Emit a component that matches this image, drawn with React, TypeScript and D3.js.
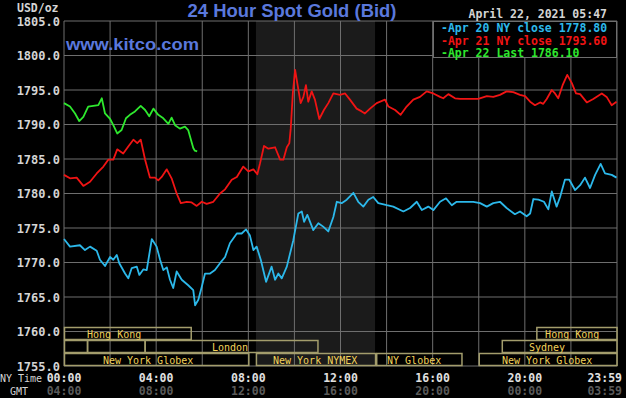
import React from 'react'
import * as d3 from 'd3'

// [hour of NY day, price]
const apr20: [number, number][] = [
  [0, 1773.4], [0.26, 1772.3], [0.69, 1772.5], [0.91, 1771.8], [1.13, 1772.3], [1.42, 1771.7],
  [1.56, 1770.4], [1.78, 1769.5], [2.0, 1770.8], [2.14, 1770.4], [2.29, 1771.1], [2.4, 1769.9],
  [2.65, 1768.4], [2.79, 1767.7], [2.94, 1769.2], [3.16, 1769.4], [3.27, 1768.2], [3.44, 1769.0],
  [3.59, 1768.9], [3.81, 1773.4], [4.02, 1772.3], [4.17, 1770.4], [4.31, 1768.9], [4.46, 1769.3],
  [4.6, 1767.5], [4.74, 1766.3], [4.89, 1768.7], [5.11, 1767.5], [5.39, 1766.7], [5.61, 1766.0],
  [5.69, 1763.8], [5.83, 1764.6], [5.98, 1766.5], [6.12, 1768.4], [6.34, 1768.4], [6.55, 1768.9],
  [6.77, 1769.9], [6.99, 1770.8], [7.2, 1772.8], [7.5, 1774.2], [7.71, 1774.2], [7.9, 1774.8],
  [8.07, 1773.9], [8.22, 1771.8], [8.36, 1772.3], [8.54, 1770.4], [8.77, 1767.2], [9.01, 1769.4],
  [9.16, 1767.5], [9.3, 1768.4], [9.45, 1767.7], [9.67, 1769.4], [9.95, 1773.2], [10.17, 1777.1],
  [10.32, 1777.4], [10.42, 1775.9], [10.56, 1776.9], [10.82, 1774.7], [11.04, 1775.7], [11.25, 1775.2],
  [11.47, 1774.5], [11.69, 1776.6], [11.84, 1778.8], [12.05, 1778.6], [12.27, 1779.1], [12.56, 1780.1],
  [12.77, 1778.8], [12.99, 1778.1], [13.21, 1779.1], [13.42, 1779.5], [13.64, 1778.6], [14.01, 1778.3],
  [14.29, 1778.1], [14.73, 1777.4], [15.02, 1777.9], [15.31, 1778.8], [15.53, 1777.6], [15.81, 1778.1],
  [16.03, 1777.6], [16.32, 1778.8], [16.58, 1779.3], [16.83, 1778.3], [17.04, 1778.8], [17.76, 1778.8],
  [18.06, 1778.6], [18.35, 1778.1], [18.63, 1778.6], [18.92, 1778.8], [19.21, 1777.9], [19.57, 1777.0],
  [19.79, 1777.4], [20.08, 1776.7], [20.23, 1777.1], [20.37, 1779.2], [20.59, 1779.1], [20.83, 1778.8],
  [21.02, 1777.7], [21.17, 1780.3], [21.38, 1778.1], [21.53, 1779.5], [21.74, 1782.0], [21.93, 1782.0],
  [22.18, 1780.5], [22.4, 1781.2], [22.61, 1782.3], [22.83, 1780.8], [23.05, 1782.7], [23.29, 1784.3],
  [23.48, 1782.9], [23.77, 1782.7], [23.98, 1782.3],
]

const apr21: [number, number][] = [
  [0, 1782.7], [0.26, 1782.2], [0.55, 1782.3], [0.84, 1781.1], [1.13, 1781.7], [1.42, 1782.9],
  [1.71, 1783.9], [1.92, 1784.9], [2.14, 1784.9], [2.31, 1786.4], [2.57, 1785.8], [2.79, 1786.8],
  [3.01, 1787.8], [3.18, 1787.3], [3.33, 1787.8], [3.52, 1784.9], [3.73, 1782.3], [3.95, 1782.3],
  [4.09, 1781.9], [4.24, 1782.4], [4.46, 1783.5], [4.67, 1782.2], [4.89, 1780.0], [5.07, 1778.6],
  [5.33, 1778.8], [5.54, 1778.7], [5.76, 1778.2], [5.98, 1778.8], [6.19, 1778.5], [6.48, 1778.8],
  [6.77, 1780.0], [6.99, 1780.6], [7.28, 1782.0], [7.5, 1782.4], [7.78, 1783.9], [8.0, 1783.2],
  [8.22, 1783.5], [8.39, 1782.8], [8.51, 1784.4], [8.68, 1786.9], [8.87, 1786.5], [9.16, 1786.7],
  [9.38, 1784.9], [9.52, 1784.9], [9.67, 1786.7], [9.78, 1787.3], [9.84, 1789.4], [9.93, 1794.5],
  [10.03, 1797.9], [10.13, 1795.9], [10.27, 1793.1], [10.39, 1794.0], [10.5, 1795.7], [10.6, 1793.3],
  [10.75, 1794.8], [10.89, 1793.6], [11.08, 1790.8], [11.28, 1792.1], [11.47, 1793.1], [11.69, 1794.5],
  [11.98, 1794.3], [12.2, 1794.5], [12.41, 1793.6], [12.7, 1792.3], [12.92, 1791.9], [13.06, 1791.6],
  [13.28, 1792.3], [13.57, 1793.1], [13.93, 1793.6], [14.08, 1792.6], [14.37, 1792.1], [14.61, 1791.4],
  [14.87, 1792.6], [15.16, 1793.6], [15.45, 1794.0], [15.74, 1794.8], [16.03, 1794.5], [16.32, 1794.0],
  [16.46, 1793.8], [16.68, 1794.4], [16.97, 1793.8], [17.19, 1793.7], [17.98, 1793.7], [18.35, 1794.1],
  [18.63, 1794.0], [18.92, 1794.3], [19.21, 1794.8], [19.5, 1794.7], [19.79, 1794.3], [20.01, 1794.1],
  [20.23, 1793.3], [20.44, 1792.8], [20.66, 1793.2], [20.8, 1793.0], [20.95, 1793.7], [21.17, 1795.0],
  [21.31, 1794.5], [21.45, 1793.8], [21.64, 1795.7], [21.84, 1797.2], [22.04, 1796.0], [22.22, 1794.5],
  [22.4, 1794.4], [22.69, 1793.2], [22.97, 1793.7], [23.34, 1794.5], [23.55, 1794.0], [23.77, 1792.8],
  [23.98, 1793.3],
]

const apr22: [number, number][] = [
  [0, 1793.1], [0.26, 1792.6], [0.48, 1791.6], [0.66, 1790.5], [0.84, 1791.1], [1.05, 1792.6],
  [1.27, 1792.7], [1.49, 1792.8], [1.64, 1793.8], [1.78, 1791.6], [2.0, 1790.8], [2.14, 1789.9],
  [2.31, 1788.7], [2.5, 1789.2], [2.69, 1790.9], [2.86, 1791.4], [3.08, 1791.9], [3.33, 1792.7],
  [3.52, 1792.1], [3.7, 1791.2], [3.88, 1792.3], [4.09, 1791.4], [4.31, 1790.9], [4.53, 1790.1],
  [4.67, 1791.0], [4.82, 1789.9], [5.03, 1789.4], [5.25, 1789.7], [5.39, 1789.2], [5.5, 1787.9],
  [5.61, 1786.6], [5.68, 1786.2], [5.78, 1786.1],
]

const yTicks = [1755, 1760, 1765, 1770, 1775, 1780, 1785, 1790, 1795, 1800, 1805]
const nyTimeLabels = ['00:00', '04:00', '08:00', '12:00', '16:00', '20:00', '23:59']
const gmtLabels = ['04:00', '08:00', '12:00', '16:00', '20:00', '00:00', '03:59']
const labelHours = [0, 4, 8, 12, 16, 20, 23.98]

const legendLabels = ['-Apr 20 NY close 1778.80', '-Apr 21 NY close 1793.60', '-Apr 22 Last 1786.10']
const seriesColors = ['#2cb8ea', '#f01414', '#2ee82e']

// trading sessions: row, start, end, label, hour where label text starts
const sessions = [
  { row: 0, start: 0, end: 5.5, label: 'Hong Kong', at: 1.0 },
  { row: 0, start: 20.5, end: 24, label: 'Hong Kong', at: 20.88 },
  { row: 1, start: 0, end: 1.0, label: '', at: 0 },
  { row: 1, start: 1.0, end: 3.5, label: '', at: 0 },
  { row: 1, start: 3.5, end: 11.0, label: 'London', at: 6.42 },
  { row: 1, start: 19.0, end: 24, label: 'Sydney', at: 20.18 },
  { row: 2, start: 0, end: 8.0, label: 'New York Globex', at: 1.69 },
  { row: 2, start: 8.33, end: 13.5, label: 'New York NYMEX', at: 9.07 },
  { row: 2, start: 13.55, end: 17.25, label: 'NY Globex', at: 14.02 },
  { row: 2, start: 18.0, end: 24, label: 'New York Globex', at: 19.01 },
]
const nymexHours = [8.33, 13.5]

const mono = '"DejaVu Sans Mono", monospace'
const sans = '"Liberation Sans", Arial, sans-serif'
const gridColor = '#6e6e6e'

const App = () => {
  const width = 626
  const height = 398
  const x = d3.scaleLinear().domain([0, 24]).range([64, 617])
  const y = d3.scaleLinear().domain([1755, 1805]).range([366, 21])
  const line = d3
    .line<[number, number]>()
    .x(d => x(d[0]))
    .y(d => y(d[1]))

  const rowTop = [327, 340, 353]
  const rowH = 13

  return (
    <div style={{ position: 'fixed', left: 0, top: 0, width, height, background: '#000' }}>
      <svg width={width} height={height} style={{ display: 'block', background: '#000' }}>
        <rect
          x={x(nymexHours[0])}
          y={y(1805)}
          width={x(nymexHours[1]) - x(nymexHours[0])}
          height={y(1755) - y(1805)}
          fill="#1b1b1b"
        />
        {yTicks.map(t => (
          <line key={t} x1={x(0)} x2={x(24)} y1={y(t)} y2={y(t)} stroke={gridColor} strokeWidth={1} />
        ))}
        {d3.range(0, 25, 2).map(h => (
          <line key={h} x1={x(h)} x2={x(h)} y1={y(1805)} y2={y(1755)} stroke={gridColor} strokeWidth={1} />
        ))}

        {sessions.map((s, i) => (
          <g key={i}>
            <rect
              x={x(s.start) + 0.5}
              y={rowTop[s.row] + 0.5}
              width={x(Math.min(s.end, 23.98)) - x(s.start)}
              height={rowH - 1}
              fill="none"
              stroke="#a39d6c"
              strokeWidth={1.5}
            />
            {s.label && (
              <text
                x={x(s.at)}
                y={rowTop[s.row] + rowH / 2 + 0.5}
                dominantBaseline="central"
                fontFamily={mono}
                fontSize={10}
                fill="#f2d25a"
              >
                {s.label}
              </text>
            )}
          </g>
        ))}

        {[apr20, apr21, apr22].map((d, i) => (
          <path key={i} d={line(d) || ''} fill="none" stroke={seriesColors[i]} strokeWidth={1.8} strokeLinejoin="round" />
        ))}

        {yTicks.map(t => (
          <text
            key={t}
            x={60}
            y={y(t) + 0.5}
            textAnchor="end"
            dominantBaseline="central"
            fontFamily={mono}
            fontWeight="bold"
            fontSize={12}
            fill="#d4d4d4"
          >
            {t.toFixed(1)}
          </text>
        ))}
        <text x={17} y={7.5} dominantBaseline="central" fontFamily={mono} fontWeight="bold" fontSize={11.5} fill="#d4d4d4">
          USD/oz
        </text>

        <text
          x={292}
          y={17}
          textAnchor="middle"
          fontFamily={sans}
          fontWeight="bold"
          fontSize={18}
          fill="#5a78dc"
          textLength={209}
          lengthAdjust="spacingAndGlyphs"
        >
          24 Hour Spot Gold (Bid)
        </text>
        <text
          x={66}
          y={49.5}
          fontFamily={sans}
          fontWeight="bold"
          fontSize={17}
          fill="#5a78dc"
          textLength={133}
          lengthAdjust="spacingAndGlyphs"
        >
          www.kitco.com
        </text>

        <text
          x={607}
          y={14}
          textAnchor="end"
          dominantBaseline="central"
          fontFamily={mono}
          fontWeight="bold"
          fontSize={11.5}
          fill="#d4d4d4"
        >
          April 22, 2021 05:47
        </text>

        <rect x={433.5} y={21.5} width={183} height={36} fill="#000" stroke={gridColor} strokeWidth={1} />
        {legendLabels.map((l, i) => (
          <text
            key={l}
            x={441}
            y={28 + i * 12.5}
            dominantBaseline="central"
            fontFamily={mono}
            fontWeight="bold"
            fontSize={11.5}
            fill={seriesColors[i]}
          >
            {l}
          </text>
        ))}

        <text x={0} y={378} dominantBaseline="central" fontFamily={mono} fontSize={10} fill="#d4d4d4">
          NY Time
        </text>
        <text x={10} y={391} dominantBaseline="central" fontFamily={mono} fontSize={10} fill="#d4d4d4">
          GMT
        </text>
        {nyTimeLabels.map((l, i) => (
          <text
            key={l}
            x={i === nyTimeLabels.length - 1 ? 622 : x(labelHours[i])}
            y={378}
            textAnchor={i === nyTimeLabels.length - 1 ? 'end' : 'middle'}
            dominantBaseline="central"
            fontFamily={mono}
            fontWeight="bold"
            fontSize={11.5}
            fill="#e0e0e0"
          >
            {l}
          </text>
        ))}
        {gmtLabels.map((l, i) => (
          <text
            key={l}
            x={i === gmtLabels.length - 1 ? 622 : x(labelHours[i])}
            y={391}
            textAnchor={i === gmtLabels.length - 1 ? 'end' : 'middle'}
            dominantBaseline="central"
            fontFamily={mono}
            fontWeight="bold"
            fontSize={11.5}
            fill="#5a5a5a"
          >
            {l}
          </text>
        ))}
      </svg>
    </div>
  )
}

export default App
